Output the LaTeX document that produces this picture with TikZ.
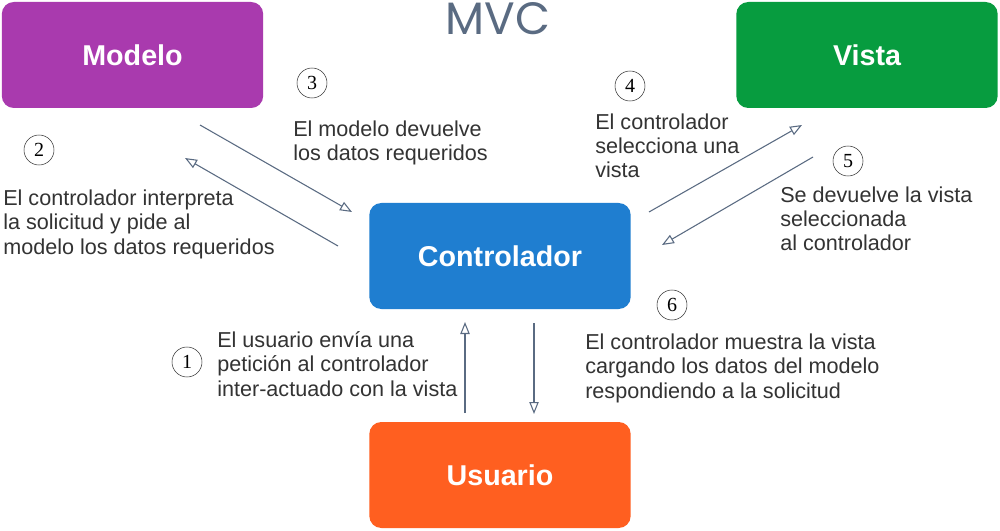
\documentclass[tikz,border=0pt]{standalone}
\usepackage{fontspec}
\setmainfont{Liberation Sans}
\newfontfamily\numfont{Liberation Serif}
\newfontfamily\titlefont{Poppins}
\usetikzlibrary{arrows.meta}
\definecolor{cmodelo}{HTML}{A93AAE}
\definecolor{cvista}{HTML}{079C3F}
\definecolor{cctrl}{HTML}{1F7ED0}
\definecolor{cuser}{HTML}{FF5F20}
\definecolor{cline}{HTML}{5A6B82}
\definecolor{ctext}{HTML}{333333}
\tikzset{
  x=0.75pt, y=-0.75pt,
  mvcbox/.style={draw=none, rounded corners=9pt, minimum width=196pt, minimum height=79.5pt,
    text=white, font=\fontsize{21.5}{24}\selectfont\bfseries, inner sep=0pt},
  flow/.style={draw=cline, line width=0.8pt, -{Triangle[open, length=9pt, width=7pt]}},
  numc/.style={circle, draw=ctext, line width=0.4pt, minimum size=22.5pt, inner sep=0pt,
    font=\numfont\fontsize{15}{15}\selectfont, text=black},
  desc/.style={anchor=base west, align=left, inner sep=0pt, text=ctext,
    font=\fontsize{16.2}{18.3}\selectfont},
}
\begin{document}
\begin{tikzpicture}
\useasboundingbox[fill=white] (0,0) rectangle (1000,531);
\node[font=\titlefont\fontsize{34}{34}\selectfont, text=cline, anchor=base] (title) at (498,35) {MVC};
\node[mvcbox, fill=cmodelo] (modelo) at (132.5,55) {Modelo};
\node[mvcbox, fill=cvista] (vista) at (867,55) {Vista};
\node[mvcbox, fill=cctrl] (ctrl) at (500,256) {Controlador};
\node[mvcbox, fill=cuser] (user) at (500,475) {Usuario};
% connector end points
\coordinate (a3s) at (200,125); \coordinate (a3e) at (352,212);
\coordinate (a2s) at (338,246); \coordinate (a2e) at (185,158);
\coordinate (a4s) at (649,212); \coordinate (a4e) at (802,125);
\coordinate (a5s) at (813,157); \coordinate (a5e) at (662,245);
\coordinate (a1s) at (465,413); \coordinate (a1e) at (465,322);
\coordinate (a6s) at (534,323); \coordinate (a6e) at (534,414);
\draw[flow] (a3s) -- (a3e);
\draw[flow] (a2s) -- (a2e);
\draw[flow] (a4s) -- (a4e);
\draw[flow] (a5s) -- (a5e);
\draw[flow] (a1s) -- (a1e);
\draw[flow] (a6s) -- (a6e);
% numbers
\node[numc] (n1) at (187,362) {1};
\node[numc] (n2) at (39,150) {2};
\node[numc] (n3) at (312,83) {3};
\node[numc] (n4) at (630,86) {4};
\node[numc] (n5) at (848,161) {5};
\node[numc] (n6) at (672,305) {6};
% texts (anchor at the baseline of the last line)
\node[desc] (t3) at (293,161) {El modelo devuelve\\los datos requeridos};
\node[desc] (t2) at (3,254) {El controlador interpreta\\la solicitud y pide al\\modelo los datos requeridos};
\node[desc] (t4) at (595,178) {El controlador\\selecciona una\\vista};
\node[desc] (t5) at (780,251) {Se devuelve la vista\\seleccionada\\al controlador};
\node[desc] (t1) at (217,396) {El usuario envía una\\petición al controlador\\inter-actuado con la vista};
\node[desc] (t6) at (585,398) {El controlador muestra la vista\\cargando los datos del modelo\\respondiendo a la solicitud};
\end{tikzpicture}
\end{document}
